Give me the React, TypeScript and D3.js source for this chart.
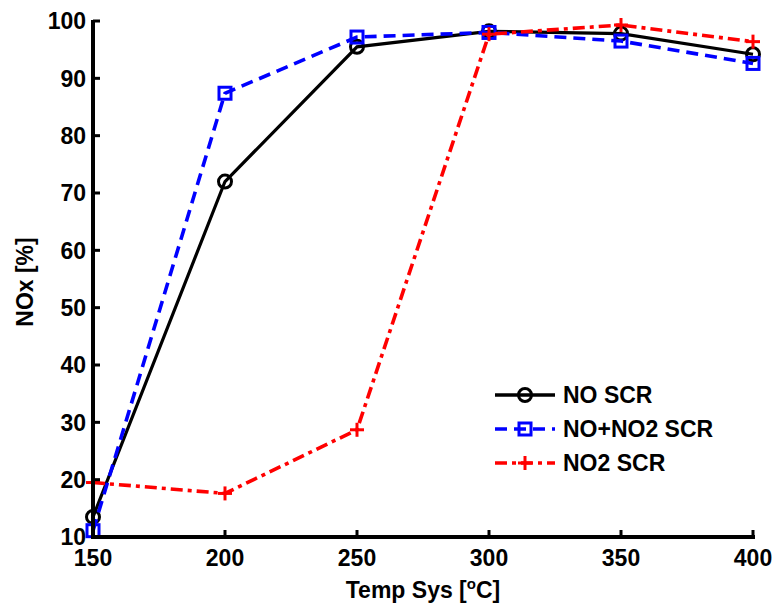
import React from "react";
import * as d3 from "d3";

const temps = [150, 200, 250, 300, 350, 400];
const noScr = [13.5, 72.0, 95.5, 98.2, 97.8, 94.2];
const noNo2Scr = [11.1, 87.4, 97.2, 98.0, 96.5, 92.6];
const no2Scr = [19.5, 17.6, 28.7, 97.7, 99.3, 96.4];
const xTicks = [150, 200, 250, 300, 350, 400];
const yTicks = [10, 20, 30, 40, 50, 60, 70, 80, 90, 100];
const seriesNames = ["NO SCR", "NO+NO2 SCR", "NO2 SCR"];

const W = 776, H = 605;
const font = "'Liberation Sans', Arial, sans-serif";

export default function App() {
  const x = d3.scaleLinear().domain([150, 400]).range([93, 753]);
  const y = d3.scaleLinear().domain([10, 100]).range([537, 21]);
  const line = d3.line<number>().x((_, i) => x(temps[i])).y((v) => y(v));

  const series = [
    { name: seriesNames[0], vals: noScr, color: "#000", dash: undefined as string | undefined, marker: "o" },
    { name: seriesNames[1], vals: noNo2Scr, color: "#0000ff", dash: "12,7", marker: "s" },
    { name: seriesNames[2], vals: no2Scr, color: "#ff0000", dash: "12,5,4,5", marker: "+" },
  ];

  const marker = (m: string, cx: number, cy: number, color: string, key: any) => {
    if (m === "o") return <circle key={key} cx={cx} cy={cy} r={6.5} fill="none" stroke={color} strokeWidth={3} />;
    if (m === "s") return <rect key={key} x={cx - 6} y={cy - 6} width={12} height={12} fill="none" stroke={color} strokeWidth={3} />;
    return (
      <g key={key} stroke={color} strokeWidth={3}>
        <line x1={cx - 7} x2={cx + 7} y1={cy} y2={cy} />
        <line x1={cx} x2={cx} y1={cy - 7} y2={cy + 7} />
      </g>
    );
  };

  const legY = [395, 429, 463];

  return (
    <svg width={W} height={H} style={{ position: "absolute", left: 0, top: 0, background: "#fff" }} fontFamily={font} fontWeight="bold">
      {series.map((s, si) => (
        <g key={si}>
          <path d={line(s.vals) || ""} fill="none" stroke={s.color} strokeWidth={si === 0 ? 3.2 : 3.6} strokeDasharray={s.dash} />
          {s.vals.map((v, i) => marker(s.marker, x(temps[i]), y(v), s.color, i))}
        </g>
      ))}
      {/* axes */}
      <line x1={x(150)} x2={x(150)} y1={y(100) - 1} y2={y(10) + 2} stroke="#000" strokeWidth={4} />
      <line x1={x(150) - 2} x2={x(400) + 2} y1={y(10)} y2={y(10)} stroke="#000" strokeWidth={4} />
      {yTicks.map((t) => (
        <g key={t}>
          <line x1={x(150)} x2={x(150) + 7} y1={y(t)} y2={y(t)} stroke="#000" strokeWidth={3} />
          <text x={86} y={y(t)} dy="0.36em" textAnchor="end" fontSize={23}>{t}</text>
        </g>
      ))}
      {xTicks.map((t) => (
        <g key={t}>
          <line x1={x(t)} x2={x(t)} y1={y(10)} y2={y(10) - 7} stroke="#000" strokeWidth={3} />
          <text x={x(t)} y={566} textAnchor="middle" fontSize={23}>{t}</text>
        </g>
      ))}
      <text transform={`translate(33,282) rotate(-90)`} textAnchor="middle" fontSize={23}>NOx [%]</text>
      <text x={423} y={598} textAnchor="middle" fontSize={23}>
        Temp Sys [<tspan dy={-9} fontSize={15}>o</tspan><tspan dy={9}>C]</tspan>
      </text>
      {/* legend */}
      {series.map((s, i) => (
        <g key={i}>
          <line x1={495} x2={555} y1={legY[i]} y2={legY[i]} stroke={s.color} strokeWidth={3.6} strokeDasharray={s.dash} />
          {marker(s.marker, 525, legY[i], s.color, "m")}
          <text x={563} y={legY[i]} dy="0.36em" fontSize={23}>{s.name}</text>
        </g>
      ))}
    </svg>
  );
}
